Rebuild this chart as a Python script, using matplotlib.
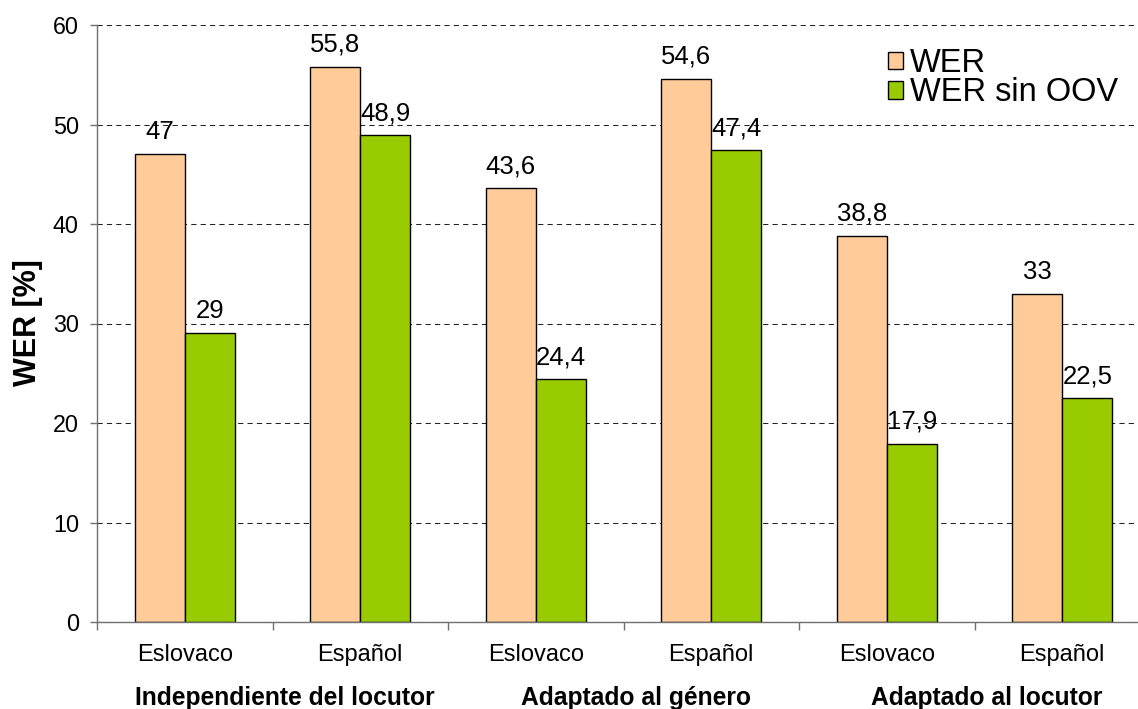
import matplotlib
matplotlib.use("Agg")
import matplotlib.pyplot as plt
from matplotlib.transforms import blended_transform_factory
import numpy as np

plt.rcParams['font.family'] = ['Liberation Sans', 'DejaVu Sans']

# Data
categories = ["Eslovaco", "Español", "Eslovaco", "Español", "Eslovaco", "Español"]
groups = ["Independiente del locutor", "Adaptado al género", "Adaptado al locutor"]
wer = [47, 55.8, 43.6, 54.6, 38.8, 33]
wer_sin_oov = [29, 48.9, 24.4, 47.4, 17.9, 22.5]
series_names = ["WER", "WER sin OOV"]
y_ticks = [0, 10, 20, 30, 40, 50, 60]

W, H = 1138, 709
fig = plt.figure(figsize=(W / 100, H / 100), dpi=100)
# axes deliberately runs past the right edge of the figure
ax = fig.add_axes([97 / W, (H - 622) / H, 1053 / W, (622 - 25) / H])

x = np.arange(len(categories))
bw = 0.285
b1 = ax.bar(x - bw / 2, wer, bw, color="#FFCC99", edgecolor="black", linewidth=1.0,
            label=series_names[0], zorder=2)
b2 = ax.bar(x + bw / 2, wer_sin_oov, bw, color="#99CC00", edgecolor="black", linewidth=1.0,
            label=series_names[1], zorder=2)

def fmt(v):
    s = f"{v:g}"
    return s.replace(".", ",")

for bars, vals in ((b1, wer), (b2, wer_sin_oov)):
    for rect, v in zip(bars, vals):
        ax.annotate(fmt(v), (rect.get_x() + rect.get_width() / 2, v),
                    xytext=(0, 10.8), textcoords="offset points",
                    ha="center", va="baseline", fontsize=18.5, zorder=3)

ax.set_xlim(-0.5, 5.5)
ax.set_ylim(0, 60)
ax.set_yticks(y_ticks)
ax.tick_params(axis="y", direction="out", length=5, width=1, color="#707070",
               labelsize=16.8, pad=8)

ax.set_xticks(x)
ax.set_xticklabels(categories, fontsize=17)
ax.set_xticks(np.arange(-0.5, 6, 1.0), minor=True)
ax.tick_params(axis="x", which="major", length=0, pad=16)
ax.tick_params(axis="x", which="minor", direction="out", length=6, width=1, color="#707070")

ax.set_axisbelow(True)
ax.yaxis.grid(True, linestyle=(0, (5, 4)), linewidth=0.75, color="#222222")

for s in ("top", "right"):
    ax.spines[s].set_visible(False)
ax.spines["left"].set_color("#707070")
ax.spines["bottom"].set_color("#707070")
ax.spines["left"].set_linewidth(1.0)
ax.spines["bottom"].set_linewidth(1.0)

fig.text(28 / W, 1 - 323 / H, "WER [%]", rotation=90, ha="center", va="center",
         fontsize=22, fontweight="bold")

trans = blended_transform_factory(ax.transData, fig.transFigure)
for i, g in enumerate(groups):
    ax.text(2 * i + 0.5 + 0.07, 4 / H, g, transform=trans, ha="center", va="baseline",
            fontsize=17.7, fontweight="bold")

ax.legend(loc="upper left", bbox_to_anchor=(888 / W, 1 - 48 / H),
          bbox_transform=fig.transFigure, frameon=False, fontsize=23.5,
          handlelength=0.46, handleheight=0.46, handletextpad=0.22,
          labelspacing=-0.05, borderpad=0, borderaxespad=0)

fig.savefig("out.png", dpi=100)
